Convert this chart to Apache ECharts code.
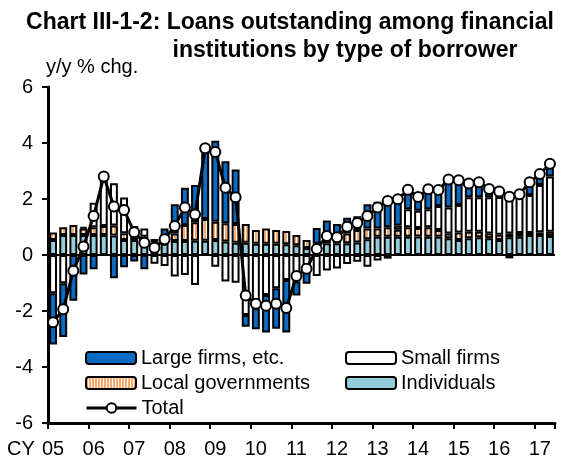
<!DOCTYPE html>
<html><head><meta charset="utf-8">
<script src="https://cdn.jsdelivr.net/npm/echarts@6/dist/echarts.min.js"></script>
<style>html,body{margin:0;padding:0;background:#fff}#c{width:567px;height:459px}</style>
</head><body><div id="c"></div>
<script>
const categories = [
 '2005Q1','2005Q2','2005Q3','2005Q4','2006Q1','2006Q2','2006Q3','2006Q4','2007Q1','2007Q2',
 '2007Q3','2007Q4','2008Q1','2008Q2','2008Q3','2008Q4','2009Q1','2009Q2','2009Q3','2009Q4',
 '2010Q1','2010Q2','2010Q3','2010Q4','2011Q1','2011Q2','2011Q3','2011Q4','2012Q1','2012Q2',
 '2012Q3','2012Q4','2013Q1','2013Q2','2013Q3','2013Q4','2014Q1','2014Q2','2014Q3','2014Q4',
 '2015Q1','2015Q2','2015Q3','2015Q4','2016Q1','2016Q2','2016Q3','2016Q4','2017Q1','2017Q2'];
const individuals = [0.54,0.71,0.71,0.71,0.71,0.71,0.70,0.54,0.54,0.50, 0.45,0.40,0.50,0.50,0.51,0.51,0.54,0.48,0.44,0.44, 0.40,0.40,0.40,0.38,0.35,0.25,0.30,0.42,0.42,0.42, 0.45,0.56,0.65,0.65,0.65,0.65,0.66,0.65,0.65,0.60, 0.54,0.60,0.63,0.60,0.54,0.63,0.65,0.71,0.71,0.68];
const localGovernments = [0.26,0.28,0.36,0.24,0.28,0.33,0.35,0.24,0.23,0.15, 0.12,0.10,0.27,0.57,0.66,0.78,0.65,0.65,0.67,0.67, 0.49,0.55,0.49,0.48,0.36,0.29,0.10,0.29,0.10,0.35, 0.44,0.39,0.30,0.34,0.25,0.34,0.30,0.34,0.24,0.17, 0.26,0.23,0.20,0.17,0.18,0.14,0.14,0.08,0.10,0.15];
const smallFirms = [-1.37,-1.01,null,0.05,0.88,1.76,1.51,1.27,0.27,0.30, -0.31,-0.39,-0.77,-0.71,-1.07,null,-0.42,-0.95,-0.99,-2.14, -1.90,-1.43,-1.19,-0.89,-0.95,-0.54,-0.75,-0.55,-0.48,-0.32, -0.24,-0.42,-0.20,-0.13,0.15,0.64,0.62,0.64,0.86,0.93, 0.99,1.23,1.23,1.29,1.35,1.43,1.38,1.35,1.69,1.97];
const largeFirms = [-1.83,-1.92,-1.63,-0.70,-0.51,null,-0.83,-0.44,-0.23,-0.51, null,0.45,1.04,1.33,1.33,2.52,2.89,2.22,1.94,-0.42, -0.75,-1.34,-1.44,-1.88,-0.50,-0.49,0.56,0.52,0.59,0.56, 0.49,0.86,0.95,1.07,0.94,0.70,0.49,0.72,0.57,1.00, 0.88,0.49,0.54,0.30,0.20,-0.12,null,0.46,0.39,0.46];
const total = [-2.40,-1.94,-0.56,0.30,1.39,2.80,1.73,1.61,0.81,0.44, 0.26,0.56,1.04,1.70,1.45,3.81,3.68,2.40,2.06,-1.45, -1.74,-1.81,-1.74,-1.89,-0.75,-0.49,0.21,0.68,0.63,1.01, 1.14,1.39,1.70,1.93,1.99,2.33,2.07,2.35,2.32,2.70, 2.67,2.55,2.60,2.36,2.27,2.08,2.17,2.60,2.89,3.26];
const yMin = -6, yMax = 6, yStep = 2;

const FONT = "'Liberation Sans', Arial, sans-serif";
function stripePattern(){
  const c = document.createElement('canvas'); c.width = 3; c.height = 4;
  const g = c.getContext('2d');
  g.fillStyle = '#FFFFFF'; g.fillRect(0,0,3,4);
  g.fillStyle = '#F7A96B'; g.fillRect(0,0,2,4);
  return c;
}
const lgFill = {image: stripePattern(), repeat: 'repeat'};
const chart = echarts.init(document.getElementById('c'), null, {renderer:'canvas'});
const barBase = {type:'bar', stack:'s', barWidth:'78%', xAxisIndex:0};
function leg(name, left, top){
  return {data:[name], left:left, top:top, padding:0, itemWidth:50, itemHeight:12, itemGap:0,
    lineStyle:{width:3, color:'#000'},
    textStyle:{fontSize:20, color:'#000', fontFamily:FONT}, selectedMode:false};
}
chart.setOption({
  animation:false,
  textStyle:{fontFamily:FONT},
  grid:{left:48, right:12, top:87, bottom:36, containLabel:false},
  graphic:[
    {type:'text', silent:true, x:290, y:23, style:{text:'Chart III-1-2: Loans outstanding among financial', font:"bold 23px "+FONT, fill:'#000', align:'center', verticalAlign:'middle'}},
    {type:'text', silent:true, x:345, y:51, style:{text:'institutions by type of borrower', font:"bold 23px "+FONT, fill:'#000', align:'center', verticalAlign:'middle'}},
    {type:'text', silent:true, x:46, y:67, style:{text:'y/y % chg.', font:"20px "+FONT, fill:'#000', align:'left', verticalAlign:'middle'}},
    {type:'text', silent:true, x:21, y:449, style:{text:'CY', font:"20px "+FONT, fill:'#000', align:'center', verticalAlign:'middle'}}
  ],
  legend:[
    leg('Large firms, etc.', 85, 348),
    leg('Small firms', 345, 348),
    leg('Local governments', 85, 373),
    leg('Individuals', 345, 373),
    leg('Total', 85, 398)
  ],
  xAxis:[{
    type:'category', data:categories, boundaryGap:true,
    axisLine:{onZero:false, lineStyle:{color:'#000', width:3}},
    axisTick:{show:true, interval:3, length:6, lineStyle:{color:'#000', width:2}},
    axisLabel:{interval:3, formatter:v=>v.slice(2,4), color:'#000', fontSize:20, margin:16, fontFamily:FONT}
  }],
  yAxis:[{
    type:'value', min:yMin, max:yMax, interval:yStep,
    axisLine:{show:true, lineStyle:{color:'#000', width:3}},
    axisTick:{show:true, length:6, lineStyle:{color:'#000', width:2}},
    splitLine:{show:false},
    axisLabel:{color:'#000', fontSize:20, margin:15, fontFamily:FONT}
  }],
  series:[
    Object.assign({}, barBase, {name:'Individuals', data:individuals,
      itemStyle:{color:'#92CDDC', borderColor:'#000', borderWidth:2},
      markLine:{silent:true, symbol:['none','none'], label:{show:false}, lineStyle:{color:'#000', width:2, type:'solid'}, data:[{yAxis:0}]}}),
    Object.assign({}, barBase, {name:'Local governments', data:localGovernments,
      itemStyle:{color:lgFill, borderColor:'#000', borderWidth:2}}),
    Object.assign({}, barBase, {name:'Small firms', data:smallFirms,
      itemStyle:{color:'#FFFFFF', borderColor:'#000', borderWidth:2}}),
    Object.assign({}, barBase, {name:'Large firms, etc.', data:largeFirms,
      itemStyle:{color:'#0A6BC4', borderColor:'#000', borderWidth:2}}),
    {name:'Total', type:'line', data:total, z:10, symbol:'circle', symbolSize:10, showAllSymbol:true,
      lineStyle:{color:'#000', width:3}, itemStyle:{color:'#FFFFFF', borderColor:'#000', borderWidth:2}}
  ]
});
</script></body></html>
